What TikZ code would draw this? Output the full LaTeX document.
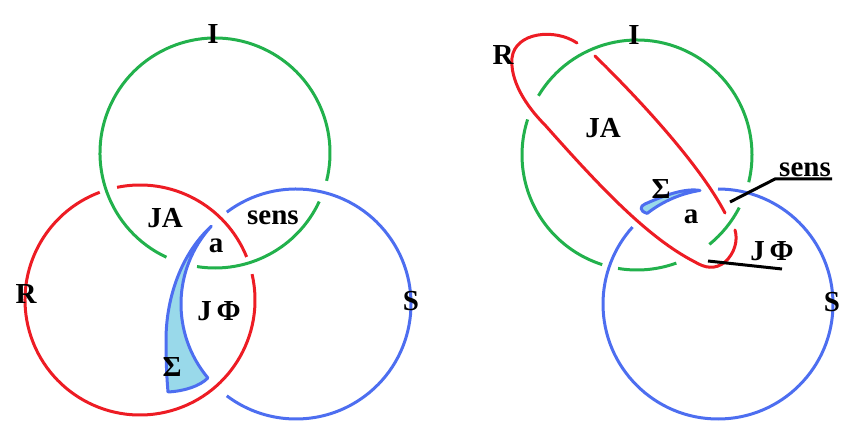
\documentclass[tikz,border=0pt]{standalone}
\usepackage{fontspec}
\setmainfont{Liberation Serif}
\usetikzlibrary{calc}
\definecolor{cgreen}{RGB}{34,177,76}
\definecolor{cred}{RGB}{237,28,36}
\definecolor{cblue}{RGB}{77,110,240}
\definecolor{clight}{RGB}{153,217,234}
\begin{document}
\begin{tikzpicture}[x=1pt,y=-1pt,
  gline/.style={draw=cgreen,line width=3pt},
  rline/.style={draw=cred,line width=3pt},
  bline/.style={draw=cblue,line width=3pt},
  kline/.style={draw=black,line width=3pt},
  crescent/.style={fill=clight,draw=cblue,line width=3pt,line join=round},
  lbl/.style={inner sep=0pt,text=black,font=\fontsize{29}{29}\selectfont\bfseries}]
\useasboundingbox (0,0) rectangle (865,443);
% ---------------- left diagram ----------------
\coordinate (G1) at (215,153);
\coordinate (R1) at (140,300);
\coordinate (B1) at (296,304);
% green circle I
\draw[gline] (G1) ++(115:115) arc[start angle=115,end angle=374,radius=115];
\draw[gline] (G1) ++(25:115) arc[start angle=25,end angle=99,radius=115];
% red circle R
\draw[rline] (R1) ++(-101.5:115) arc[start angle=-101.5,end angle=-22,radius=115];
\draw[rline] (R1) ++(-13:115) arc[start angle=-13,end angle=249.5,radius=115];
% blue circle S
\draw[bline] (B1) ++(-127:115) arc[start angle=-127,end angle=127,radius=115];
% Sigma crescent
\path[crescent] (B1) ++(140:115) arc[start angle=140,end angle=222.5,radius=115]
  .. controls (180,255) and (166,300) .. (166,340)
  .. controls (166,365) and (167,380) .. (168,392)
  .. controls (185,391) and (200,386) .. cycle;
% labels
\node[lbl] (lI) at (213,34) {I};
\node[lbl] (lR) at (26,294) {R};
\node[lbl] (lS) at (411,301) {S};
\node[lbl] (lJA) at (165,218) {JA};
\node[lbl] (lsens) at (273,218) {sens};
\node[lbl] (la) at (216,246) {a};
\node[lbl] (lJF) at (219,311) {J\,Φ};
\node[lbl] (lSig) at (172,367) {Σ};
% ---------------- right diagram ----------------
\coordinate (G2) at (637,155);
\coordinate (B2) at (718,304);
% green circle I
\draw[gline] (G2) ++(-149:115) arc[start angle=-149,end angle=13.7,radius=115];
\draw[gline] (G2) ++(27.2:115) arc[start angle=27.2,end angle=51,radius=115];
\draw[gline] (G2) ++(70:115) arc[start angle=70,end angle=99.5,radius=115];
\draw[gline] (G2) ++(107.6:115) arc[start angle=107.6,end angle=198,radius=115];
% blue circle S
\draw[bline] (B2) ++(-90:115) arc[start angle=-90,end angle=222,radius=115];
% Sigma crescent
\path[crescent] (B2) ++(-99:115) arc[start angle=-99,end angle=-128,radius=115]
  .. controls (639,211) and (640,206) .. (645,204)
  .. controls (665,195) and (685,188) .. cycle;
% red loop R
\draw[rline,line cap=round] (577,43) .. controls (555,28) and (515,32) .. (512,58)
  .. controls (510,80) and (525,105) .. (545,125)
  .. controls (600,187) and (648,238) .. (695,262)
  .. controls (705,268) and (715,270) .. (725,262)
  .. controls (735,253) and (738,240) .. (735,230);
\draw[rline,line cap=round] (595,56) .. controls (640,100) and (700,165) .. (725,213);
% pointer lines
\coordinate (sensA) at (730,202);
\coordinate (sensB) at (775,179);
\coordinate (sensC) at (832,179);
\coordinate (jfA) at (708,261);
\coordinate (jfB) at (782,269);
\draw[kline] (sensA) -- (sensB) -- (sensC);
\draw[kline] (jfA) -- (jfB);
% labels
\node[lbl] (rR) at (503,55) {R};
\node[lbl] (rI) at (634,35) {I};
\node[lbl] (rJA) at (603,128) {JA};
\node[lbl] (rSig) at (661,189) {Σ};
\node[lbl] (ra) at (691,217) {a};
\node[lbl] (rsens) at (805,170) {sens};
\node[lbl] (rJF) at (772,251) {J\,Φ};
\node[lbl] (rS) at (832,302) {S};
\end{tikzpicture}
\end{document}
